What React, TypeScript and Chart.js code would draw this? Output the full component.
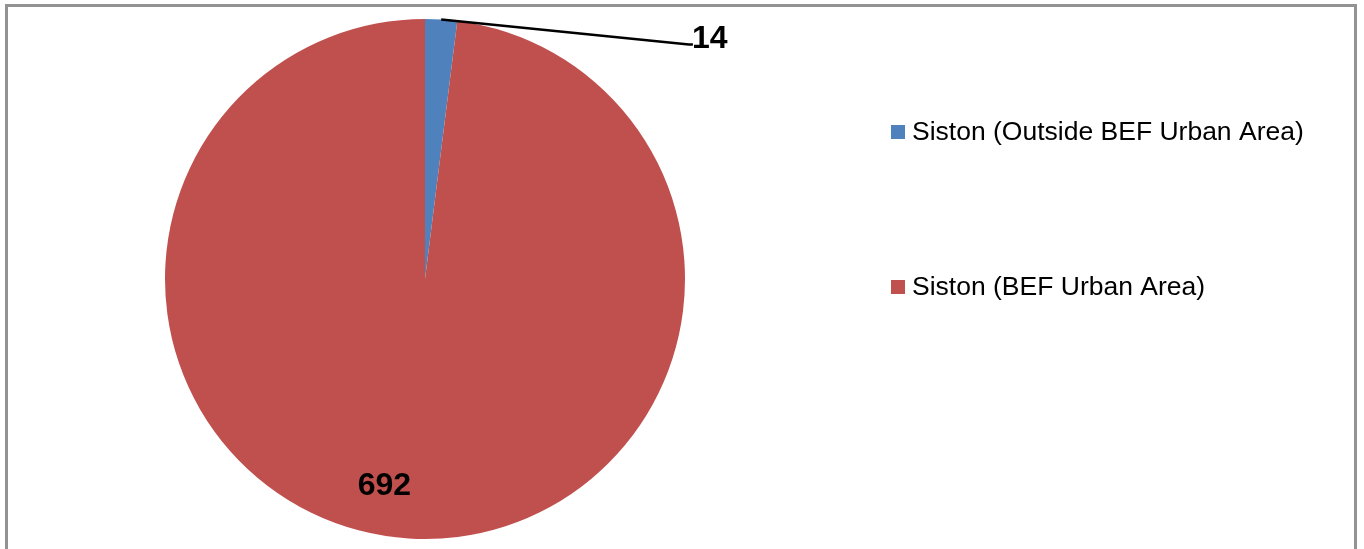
import React, { useEffect, useRef } from "react";
import { Chart, registerables } from "chart.js";

Chart.register(...registerables);

const categories = ["Siston (Outside BEF Urban Area)", "Siston (BEF Urban Area)"];
const seriesValues = [14, 692];
const sliceColors = ["#4F81BD", "#C0504D"];

const FONT = "'Liberation Sans', Arial, sans-serif";

const framePlugin = {
  id: "frame",
  beforeDraw(chart: any) {
    const ctx = chart.ctx;
    ctx.save();
    ctx.fillStyle = "#ffffff";
    ctx.fillRect(0, 0, chart.width, chart.height);
    ctx.strokeStyle = "#939393";
    ctx.lineWidth = 3;
    ctx.strokeRect(6.5, 5.5, 1349, chart.height + 20);
    ctx.restore();
  },
};

const labelPlugin = {
  id: "sliceLabels",
  afterDraw(chart: any) {
    const ctx = chart.ctx;
    const meta = chart.getDatasetMeta(0);
    const data = chart.data.datasets[0].data as number[];
    ctx.save();
    ctx.font = `bold 32px ${FONT}`;
    ctx.fillStyle = "#000000";
    ctx.textBaseline = "alphabetic";
    meta.data.forEach((arc: any, i: number) => {
      const p = arc.getProps(["x", "y", "startAngle", "endAngle", "outerRadius"], true);
      const r = p.outerRadius;
      const mid = (p.startAngle + p.endAngle) / 2;
      const text = String(data[i]);
      if (i === 0) {
        const sx = p.x + Math.cos(mid) * r;
        const sy = p.y + Math.sin(mid) * r;
        const ex = p.x + 1.015 * r;
        const ey = p.y - 0.902 * r;
        ctx.strokeStyle = "#000000";
        ctx.lineWidth = 2.5;
        ctx.beginPath();
        ctx.moveTo(sx, sy);
        ctx.lineTo(ex, ey);
        ctx.lineTo(ex + 4, ey);
        ctx.stroke();
        ctx.textAlign = "left";
        ctx.fillText(text, ex + 3, p.y - 0.89 * r);
      } else {
        ctx.textAlign = "center";
        ctx.fillText(text, p.x - 0.156 * r, p.y + 0.832 * r);
      }
    });
    ctx.restore();
  },
};

const legendPlugin = {
  id: "customLegend",
  afterDraw(chart: any) {
    const ctx = chart.ctx;
    const labels = chart.data.labels as string[];
    const colors = chart.data.datasets[0].backgroundColor as string[];
    const x0 = 891;
    const centers = [132, 287];
    ctx.save();
    ctx.font = `26.5px ${FONT}`;
    ctx.textBaseline = "middle";
    ctx.textAlign = "left";
    labels.forEach((lab, i) => {
      const cy = centers[i];
      ctx.fillStyle = colors[i];
      ctx.fillRect(x0, cy - 7, 14, 14);
      ctx.fillStyle = "#000000";
      ctx.fillText(lab, x0 + 21, cy + 1);
    });
    ctx.restore();
  },
};

export default function App() {
  const ref = useRef<HTMLCanvasElement | null>(null);
  useEffect(() => {
    if (!ref.current) return;
    const chart = new Chart(ref.current, {
      type: "pie",
      data: {
        labels: categories,
        datasets: [
          {
            data: seriesValues,
            backgroundColor: sliceColors,
            borderWidth: 0,
          },
        ],
      },
      options: {
        responsive: false,
        animation: false,
        layout: { padding: { left: 165, right: 679, top: 19, bottom: 10 } },
        plugins: {
          legend: { display: false },
          tooltip: { enabled: false },
          title: { display: false },
        },
      },
      plugins: [framePlugin, labelPlugin, legendPlugin],
    });
    return () => chart.destroy();
  }, []);
  return (
    <div style={{ position: "absolute", left: 0, top: 0, width: 1364, height: 549, background: "#fff" }}>
      <canvas ref={ref} width={1364} height={549} style={{ display: "block" }} />
    </div>
  );
}
